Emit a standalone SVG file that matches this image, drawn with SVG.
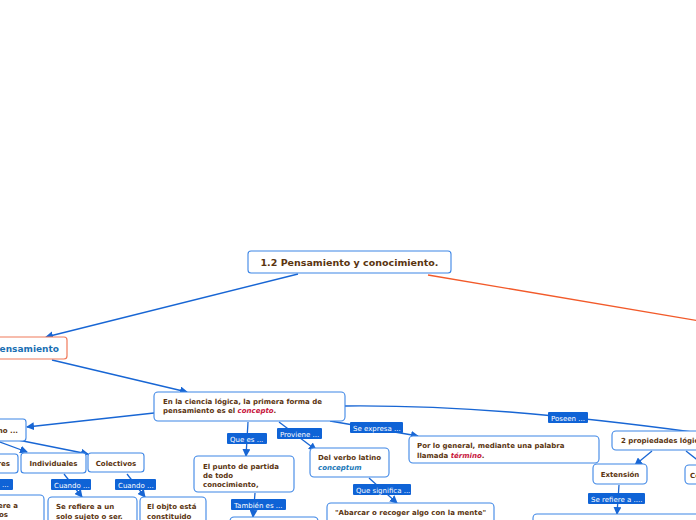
<svg xmlns="http://www.w3.org/2000/svg" width="696" height="520" viewBox="0 0 696 520">
<defs>
<marker id="arr" markerWidth="8" markerHeight="8" refX="7" refY="4" orient="auto" markerUnits="userSpaceOnUse">
<path d="M0,0 L8,4 L0,8 Z" fill="#1866d4"/>
</marker>
<style>
.c{fill:none;stroke:#1866d4;stroke-width:1.3}
.n{fill:#fff;stroke:#3d86e6;stroke-width:1.1}
.t{font-family:"DejaVu Sans",Verdana,sans-serif;font-weight:bold;font-size:7px;fill:#5a3410}
.lb{fill:#0f63d6}
.lt{font-family:"DejaVu Sans",Verdana,sans-serif;font-size:7px;fill:#fff}
.red{fill:#c8143c;font-style:italic}
.blu{fill:#1a78b8;font-style:italic}
</style>
</defs>
<rect width="696" height="520" fill="#fff"/>
<g id="connectors">
<path class="c" d="M298,274 L46,337" marker-end="url(#arr)"/>
<path d="M428,275 L700,321" fill="none" stroke="#f25a2a" stroke-width="1.3"/>
<path class="c" d="M52,360 L187,392" marker-end="url(#arr)"/>
<path class="c" d="M154,413 L27,427" marker-end="url(#arr)"/>
<path class="c" d="M0,442 L27,452" marker-end="url(#arr)"/>
<path class="c" d="M13,439 L88,454" marker-end="url(#arr)"/>
<path class="c" d="M64,474 L82,497" marker-end="url(#arr)"/>
<path class="c" d="M127,474 L145,497" marker-end="url(#arr)"/>
<path class="c" d="M248,422 L246,456" marker-end="url(#arr)"/>
<path class="c" d="M255,493 L253,517" marker-end="url(#arr)"/>
<path class="c" d="M279,422 L316,450" marker-end="url(#arr)"/>
<path class="c" d="M369,478 L397,503" marker-end="url(#arr)"/>
<path class="c" d="M330,421 L418,436" marker-end="url(#arr)"/>
<path class="c" d="M345,406 C450,405 560,414 700,433"/>
<path class="c" d="M652,451 L635,465" marker-end="url(#arr)"/>
<path class="c" d="M686,451 L700,462"/>
<path class="c" d="M619,485 L617,514" marker-end="url(#arr)"/>
</g>
<g id="root">
<rect class="n" x="248" y="251" width="203" height="22" rx="3"/>
<text class="t" x="349.5" y="265.5" text-anchor="middle" style="font-size:9.5px">1.2 Pensamiento y conocimiento.</text>
</g>
<g id="pensamiento">
<rect x="-10" y="337" width="77" height="22" rx="3" fill="#fff" stroke="#f07a5a" stroke-width="1.2"/>
<text class="t" x="59" y="351.5" text-anchor="end" style="font-size:9px;fill:#1a6fb3">Pensamiento</text>
</g>
<g id="concepto">
<rect class="n" x="154" y="392" width="191" height="29" rx="4"/>
<text class="t" x="163" y="404">En la ciencia lógica, la primera forma de</text>
<text class="t" x="163" y="413">pensamiento es el <tspan class="red">concepto</tspan>.</text>
</g>
<g id="como">
<rect class="n" x="-10" y="419" width="36" height="22" rx="3"/>
<text class="t" x="18" y="433" text-anchor="end">Como ...</text>
</g>
<g id="singulares">
<rect class="n" x="-30" y="454" width="48" height="19" rx="3"/>
<text class="t" x="10" y="466" text-anchor="end">Singulares</text>
</g>
<g id="individuales">
<rect class="n" x="21" y="453" width="65" height="20" rx="3"/>
<text class="t" x="53.5" y="466" text-anchor="middle">Individuales</text>
</g>
<g id="colectivos">
<rect class="n" x="88" y="453" width="56" height="19" rx="3"/>
<text class="t" x="116" y="465.5" text-anchor="middle">Colectivos</text>
</g>
<g id="lbl-cuando0">
<rect class="lb" x="-5" y="479" width="18" height="11" rx="1"/>
<text class="lt" x="2" y="487">...</text>
</g>
<g id="lbl-cuando1">
<rect class="lb" x="51" y="479" width="40" height="11" rx="1"/>
<text class="lt" x="54" y="487.5">Cuando ...</text>
</g>
<g id="lbl-cuando2">
<rect class="lb" x="115" y="479" width="41" height="11" rx="1"/>
<text class="lt" x="118" y="487.5">Cuando ...</text>
</g>
<g id="refiere-varios">
<rect class="n" x="-30" y="495" width="74" height="40" rx="4"/>
<text class="t" x="18" y="508" text-anchor="end">Se refiere a</text>
<text class="t" x="8" y="517" text-anchor="end">varios</text>
</g>
<g id="refiere-uno">
<rect class="n" x="48" y="497" width="89" height="40" rx="4"/>
<text class="t" x="56" y="509">Se refiere a un</text>
<text class="t" x="56" y="518.5">solo sujeto o ser.</text>
</g>
<g id="objeto">
<rect class="n" x="140" y="497" width="66" height="40" rx="4"/>
<text class="t" x="147" y="509">El objto está</text>
<text class="t" x="147" y="518.5">constituido</text>
</g>
<g id="punto">
<rect class="n" x="194" y="456" width="100" height="36" rx="4"/>
<text class="t" x="203" y="468.5">El punto de partida</text>
<text class="t" x="203" y="477.5">de todo</text>
<text class="t" x="203" y="486.5">conocimiento,</text>
</g>
<g id="tambien-box">
<rect class="n" x="230" y="517" width="88" height="20" rx="4"/>
</g>
<g id="verbo">
<rect class="n" x="310" y="448" width="79" height="29" rx="4"/>
<text class="t" x="318" y="460">Del verbo latino</text>
<text class="t blu" x="318" y="469.5">conceptum</text>
</g>
<g id="abarcar">
<rect class="n" x="327" y="503" width="167" height="30" rx="4"/>
<text class="t" x="410.5" y="515" text-anchor="middle">"Abarcar o recoger algo con la mente"</text>
</g>
<g id="termino">
<rect class="n" x="409" y="436" width="190" height="27" rx="4"/>
<text class="t" x="417" y="448">Por lo general, mediante una palabra</text>
<text class="t" x="417" y="457.5">llamada <tspan class="red">término</tspan>.</text>
</g>
<g id="propiedades">
<rect class="n" x="612" y="431" width="100" height="19" rx="4"/>
<text class="t" x="621" y="443">2 propiedades lógicas</text>
</g>
<g id="extension">
<rect class="n" x="593" y="464" width="54" height="20" rx="4"/>
<text class="t" x="620" y="477" text-anchor="middle">Extensión</text>
</g>
<g id="comprension">
<rect class="n" x="685" y="465" width="60" height="19" rx="4"/>
<text class="t" x="690" y="477.5">Comprensión</text>
</g>
<g id="ext-box">
<rect class="n" x="533" y="514" width="170" height="20" rx="4"/>
</g>
<g id="lbl-quees"><rect class="lb" x="227" y="433" width="40" height="11" rx="1"/><text class="lt" x="230" y="441.5">Que es ...</text></g>
<g id="lbl-proviene"><rect class="lb" x="277" y="428" width="45" height="11" rx="1"/><text class="lt" x="280" y="436.5">Proviene ...</text></g>
<g id="lbl-expresa"><rect class="lb" x="350" y="422" width="53" height="11" rx="1"/><text class="lt" x="353" y="430.5">Se expresa ...</text></g>
<g id="lbl-poseen"><rect class="lb" x="548" y="412" width="40" height="11" rx="1"/><text class="lt" x="551" y="420.5">Poseen ...</text></g>
<g id="lbl-tambien"><rect class="lb" x="231" y="499" width="55" height="11" rx="1"/><text class="lt" x="234" y="507.5">También es ...</text></g>
<g id="lbl-significa"><rect class="lb" x="353" y="484" width="58" height="11" rx="1"/><text class="lt" x="356" y="492.5">Que significa ...</text></g>
<g id="lbl-refiere"><rect class="lb" x="588" y="493" width="57" height="11" rx="1"/><text class="lt" x="591" y="501.5">Se refiere a ....</text></g>
</svg>
